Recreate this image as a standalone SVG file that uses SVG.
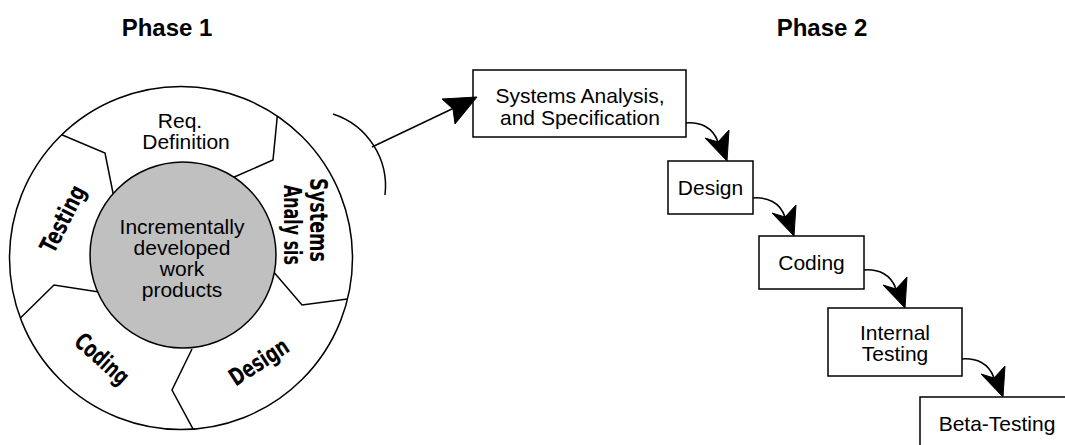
<svg xmlns="http://www.w3.org/2000/svg" xmlns:xlink="http://www.w3.org/1999/xlink" width="1065" height="445" viewBox="0 0 1065 445">
<style>
  .ln { fill: none; stroke: #000; stroke-width: 1.5; }
  .box { fill: #fff; stroke: #000; stroke-width: 1.5; }
  .t { font-family: "Liberation Sans", Arial, sans-serif; font-size: 21px; fill: #000; text-anchor: middle; }
  .title { font-family: "Liberation Sans", Arial, sans-serif; font-size: 24px; font-weight: bold; fill: #000; text-anchor: middle; }
  .hand { font-family: "DejaVu Sans", "Liberation Sans", sans-serif; font-size: 24px; font-weight: bold; fill: #000; text-anchor: middle; }
  .head { fill: #000; stroke: #000; stroke-width: 1; stroke-linejoin: miter; }
</style>
<defs>
  <g id="hook">
    <path class="ln" d="M-41,-38 c14,-1 27,4 32,19"/>
    <polygon class="head" points="0,0 -22,-23 -9,-19 2,-31"/>
  </g>
</defs>

<g id="title-phase1"><text class="title" x="167" y="36">Phase 1</text></g>
<g id="title-phase2"><text class="title" x="822" y="36">Phase 2</text></g>

<g id="cycle">
  <circle class="ln" cx="181" cy="258" r="171.5" fill="#fff"/>
  <polyline class="ln" points="232,178 273,160 277.3,116.1"/>
  <polyline class="ln" points="114,198 105,153 61.7,134.7"/>
  <polyline class="ln" points="99,292 54,285 20.4,318"/>
  <polyline class="ln" points="192,349 172,390 193.1,429.1"/>
  <polyline class="ln" points="272,270 302,305 347.5,298.9"/>
</g>

<g id="core">
  <circle cx="183" cy="255" r="93" fill="#c0c0c0" stroke="#000" stroke-width="1.5"/>
  <text class="t" x="182" y="234">Incrementally</text>
  <text class="t" x="182" y="255">developed</text>
  <text class="t" x="182" y="276">work</text>
  <text class="t" x="182" y="297">products</text>
</g>

<g id="seg-req">
  <text class="t" x="180" y="128">Req.</text>
  <text class="t" x="186" y="149">Definition</text>
</g>
<g id="seg-sysanalysis">
  <text class="hand" transform="translate(318,220) rotate(90)" x="0" y="8" textLength="84" lengthAdjust="spacingAndGlyphs">Systems</text>
  <text class="hand" transform="translate(292,225) rotate(90)" x="0" y="8" textLength="80" lengthAdjust="spacingAndGlyphs">Analy sis</text>
</g>
<g id="seg-design">
  <text class="hand" transform="translate(259,362) rotate(-33)" x="0" y="8" textLength="66" lengthAdjust="spacingAndGlyphs">Design</text>
</g>
<g id="seg-coding">
  <text class="hand" transform="translate(102,359) rotate(42)" x="0" y="8" textLength="64" lengthAdjust="spacingAndGlyphs">Coding</text>
</g>
<g id="seg-testing">
  <text class="hand" transform="translate(63,219) rotate(-63)" x="0" y="8" textLength="72" lengthAdjust="spacingAndGlyphs">Testing</text>
</g>

<g id="box-sysanalysis">
  <rect class="box" x="473" y="70" width="213" height="67"/>
  <text class="t" x="580" y="103">Systems Analysis,</text>
  <text class="t" x="580" y="125">and Specification</text>
</g>
<g id="box-design">
  <rect class="box" x="668" y="161" width="85" height="53"/>
  <text class="t" x="710.5" y="195">Design</text>
</g>
<g id="box-coding">
  <rect class="box" x="759" y="236" width="105" height="53"/>
  <text class="t" x="811.5" y="270">Coding</text>
</g>
<g id="box-internal">
  <rect class="box" x="828" y="308" width="134" height="68"/>
  <text class="t" x="895" y="340">Internal</text>
  <text class="t" x="895" y="361">Testing</text>
</g>
<g id="box-beta">
  <rect class="box" x="920" y="397" width="160" height="70"/>
  <text class="t" x="997" y="431">Beta-Testing</text>
</g>

<g id="connectors">
  <path class="ln" d="M333,114 A76,76 0 0 1 385,195"/>
  <line class="ln" x1="372" y1="147" x2="454" y2="108"/>
  <polygon class="head" points="477,97 442,99 453,109 455,124"/>
  <use xlink:href="#hook" x="727" y="161"/>
  <use xlink:href="#hook" x="794" y="236"/>
  <use xlink:href="#hook" x="905" y="308"/>
  <use xlink:href="#hook" x="1003" y="397"/>
</g>
</svg>
